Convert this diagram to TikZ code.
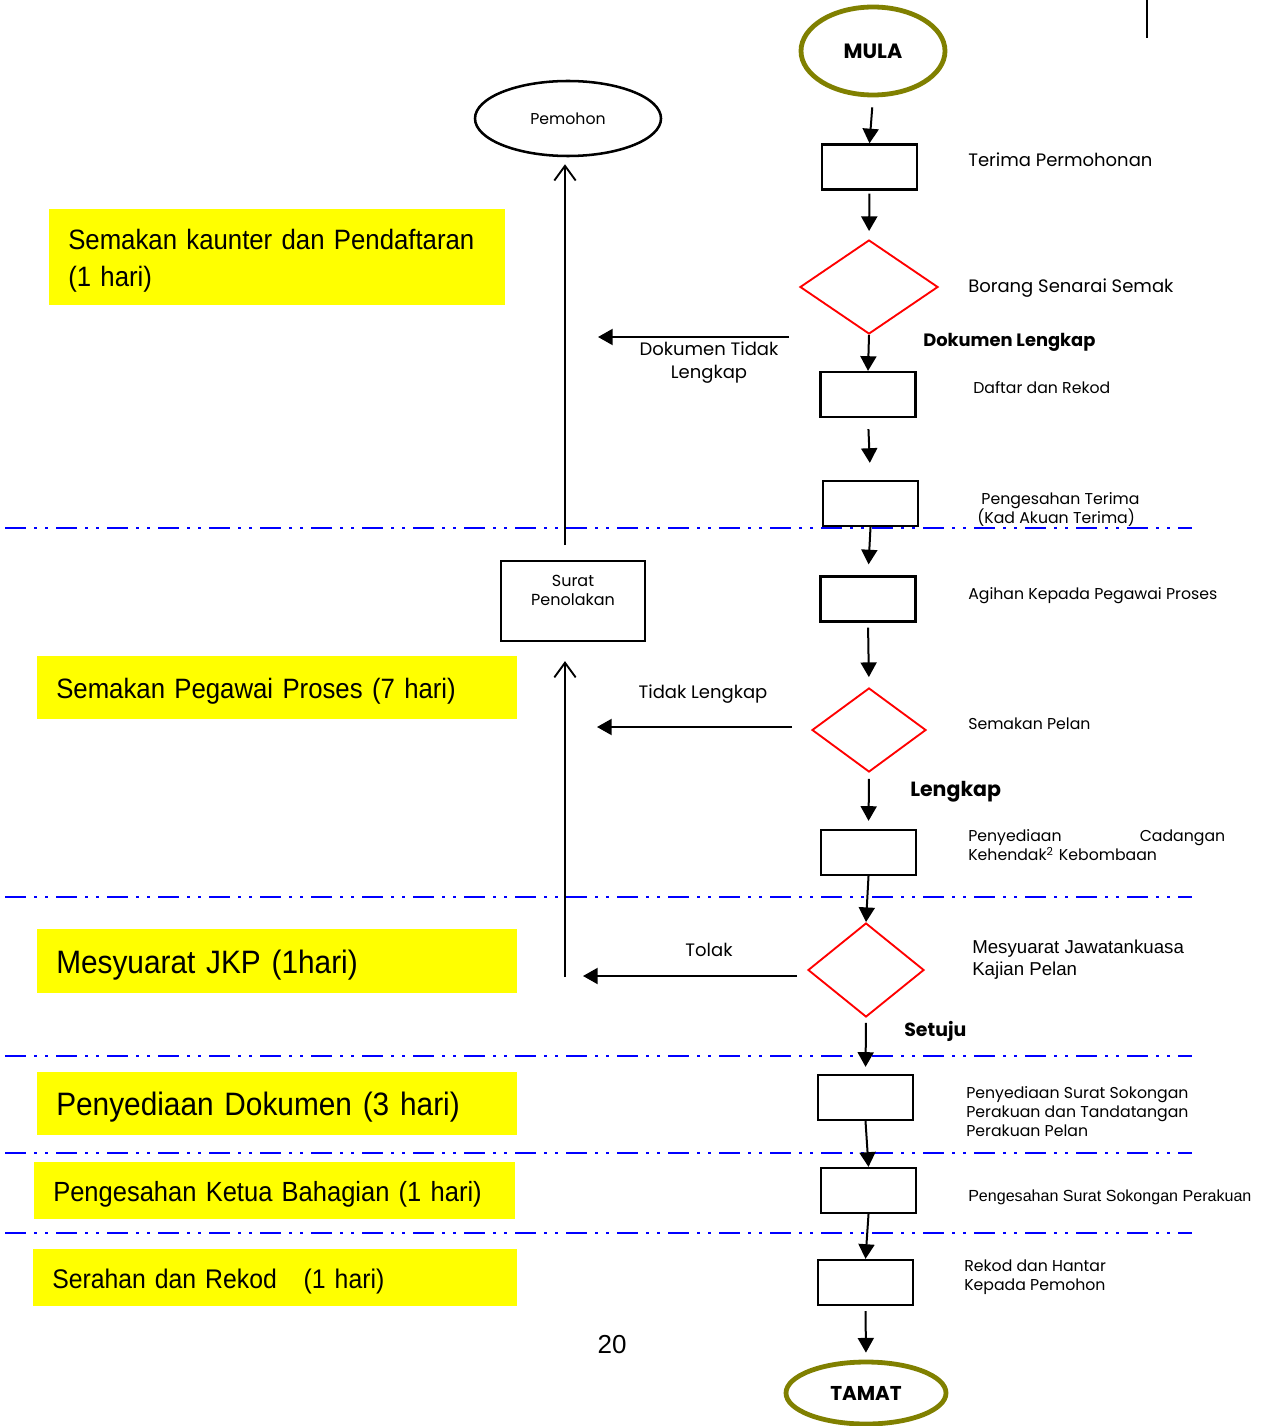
\documentclass[tikz,border=0pt]{standalone}
\usepackage{fontspec}
\setmainfont{Poppins}
\newfontfamily\arialf{Liberation Sans}
\newfontfamily\narrowf[FakeStretch=0.92]{Liberation Sans}
\usetikzlibrary{arrows.meta,shapes.geometric}
\definecolor{olivec}{HTML}{808000}
\definecolor{yel}{HTML}{FFFF00}
\newcommand\pdown{\rule{0pt}{\dimexpr\fontcharht\font`\(+6pt\relax}}
\begin{document}
\begin{tikzpicture}[x=0.75pt,y=-0.75pt,
  stepbox/.style={draw, line width=1.7pt, minimum width=71.25pt, minimum height=33.75pt, inner sep=0},
  decide/.style={diamond, draw=red, line width=1.4pt, inner sep=0},
  terminal/.style={ellipse, draw=olivec, line width=3.6pt, inner sep=0},
  flow/.style={line width=1.5pt, -{Triangle[width=12pt,length=11pt]}},
  back/.style={line width=1.4pt, -{Straight Barb[width=16pt,length=11pt]}},
  sep/.style={draw=blue, line width=1.6pt, dash pattern=on 15.75pt off 6pt on 2.25pt off 6pt on 2.25pt off 6pt},
  stage/.style={fill=yel, anchor=north west, inner xsep=14.25pt, inner ysep=0, align=left},
  note/.style={anchor=west, inner sep=0, align=left},
  f11/.style={font=\fontsize{11.8}{14.25}\selectfont},
  f13/.style={font=\fontsize{13.5}{17}\selectfont},
  fb/.style={font=\bfseries\fontsize{13.4}{15}\selectfont},
]
\useasboundingbox (0,0) rectangle (1265,1426);

% top right mark
\coordinate (m1) at (1147,0);
\coordinate (m2) at (1147,38);
\draw[line width=2.2pt] (m1) -- (m2);

% yellow stage labels
\node[stage, minimum width=342pt, minimum height=72pt, text width=313.5pt, font=\narrowf\fontsize{21}{27.75}\selectfont] (s1) at (49,209) {\pdown Semakan kaunter dan Pendaftaran\\(1 hari)};
\node[stage, minimum width=360pt, minimum height=47.25pt, text width=331.5pt, font=\narrowf\fontsize{21}{25}\selectfont] (s2) at (37,656) {\pdown Semakan Pegawai Proses (7 hari)};
\node[stage, minimum width=360pt, minimum height=48pt, text width=331.5pt, font=\narrowf\fontsize{24.3}{28}\selectfont] (s3) at (37,929) {\pdown Mesyuarat JKP (1hari)};
\node[stage, minimum width=360pt, minimum height=47.25pt, text width=331.5pt, font=\narrowf\fontsize{24.3}{28}\selectfont] (s4) at (37,1072) {\pdown Penyediaan Dokumen (3 hari)};
\node[stage, minimum width=360.75pt, minimum height=42.75pt, text width=332.25pt, font=\narrowf\fontsize{20.8}{24}\selectfont] (s5) at (34,1162) {\pdown Pengesahan Ketua Bahagian (1 hari)};
\node[stage, minimum width=363pt, minimum height=42.75pt, text width=334.5pt, font=\narrowf\fontsize{20.2}{24}\selectfont] (s6) at (33,1249) {\pdown Serahan dan Rekod\ \ \ (1 hari)};

% terminals
\node[terminal, minimum width=108pt, minimum height=66pt, font=\bfseries\fontsize{15.5}{17}\selectfont] (mula) at (873,51) {MULA};
\node[terminal, minimum width=120pt, minimum height=46.5pt, font=\bfseries\fontsize{15}{17}\selectfont] (tamat) at (866,1393) {TAMAT};

% process boxes
\node[stepbox] (b1) at (869.5,167) {};
\node[stepbox] (b2) at (868,394.5) {};
\node[stepbox] (b3) at (870.5,503.5) {};
\node[stepbox] (b4) at (868,599) {};
\node[stepbox] (b5) at (868.5,852.5) {};
\node[stepbox] (b6) at (865.5,1097.5) {};
\node[stepbox] (b7) at (868.5,1190.5) {};
\node[stepbox] (b8) at (865.5,1282.5) {};

% decisions
\node[decide, minimum width=103.5pt, minimum height=70.5pt] (d1) at (869,287) {};
\node[decide, minimum width=85.5pt, minimum height=63pt] (d2) at (869,730) {};
\node[decide, minimum width=87pt, minimum height=70.5pt] (d3) at (866,970) {};

% left side
\node[ellipse, draw, line width=1.9pt, minimum width=139.5pt, minimum height=56.25pt, inner sep=0, f11] (pem) at (568,118.5) {Pemohon};
\node[draw, line width=1.7pt, minimum width=108pt, minimum height=60pt, inner sep=0] (sp) at (573,601) {};
\node[inner sep=0, align=center, font=\fontsize{12}{14.25}\selectfont] (sptext) at (573,590) {Surat\\Penolakan};

% separators
\coordinate (l1a) at (5,528);  \coordinate (l1b) at (1192,528);
\coordinate (l2a) at (5,897);  \coordinate (l2b) at (1192,897);
\coordinate (l3a) at (5,1056); \coordinate (l3b) at (1192,1056);
\coordinate (l4a) at (5,1153); \coordinate (l4b) at (1192,1153);
\coordinate (l5a) at (5,1233); \coordinate (l5b) at (1192,1233);
\draw[sep] (l1a) -- (l1b);
\draw[sep] (l2a) -- (l2b);
\draw[sep] (l3a) -- (l3b);
\draw[sep] (l4a) -- (l4b);
\draw[sep] (l5a) -- (l5b);

% main flow
\draw[flow, shorten <=7.5pt] (mula.south) -- (b1.north);
\draw[flow, shorten <=2.25pt, shorten >=6pt] (b1.south) -- (d1.north);
\draw[flow] (d1.south) -- (b2.north);
\draw[flow, shorten <=8.25pt, shorten >=12.75pt] (b2.south) -- (b3.north);
\draw[flow, shorten >=8.25pt] (b3.south) -- (b4.north);
\draw[flow, shorten <=3.75pt, shorten >=7.5pt] (b4.south) -- (d2.north);
\draw[flow, shorten <=4.5pt, shorten >=6pt] (d2.south) -- (b5.north);
\draw[flow] (b5.south) -- (d3.north);
\draw[flow, shorten <=3.75pt, shorten >=5.25pt] (d3.south) -- (b6.north);
\draw[flow] (b6.south) -- (b7.north);
\draw[flow] (b7.south) -- (b8.north);
\draw[flow, shorten <=3.75pt, shorten >=5.25pt] (b8.south) -- (tamat.north);

% rejection arrows
\coordinate (h1s) at (789,337); \coordinate (h1e) at (598,337);
\coordinate (h2s) at (792,727); \coordinate (h2e) at (597,727);
\coordinate (h3s) at (797,976); \coordinate (h3e) at (583,976);
\draw[flow] (h1s) -- (h1e);
\draw[flow] (h2s) -- (h2e);
\draw[flow] (h3s) -- (h3e);
\coordinate (v1) at (565,545);
\coordinate (v2) at (565,977);
\draw[back, shorten >=5.25pt] (v1) -- (v1 |- pem.south);
\draw[back, shorten >=14.25pt] (v2) -- (v2 |- sp.south);

% arrow labels
\node[inner sep=0, align=center, f13] (t1) at (709,362.5) {Dokumen Tidak\\Lengkap};
\node[inner sep=0, f13] (t2) at (703,694) {Tidak Lengkap};
\node[inner sep=0, f13] (t3) at (709,950) {Tolak};
\node[note, fb] (y1) at (923,342) {Dokumen Lengkap};
\node[note, font=\bfseries\fontsize{15.4}{17}\selectfont] (y2) at (910,792) {Lengkap};
\node[note, font=\bfseries\fontsize{14.2}{17}\selectfont] (y3) at (904,1031) {Setuju};

% step descriptions
\node[note, f13] (n1) at (968,160) {Terima Permohonan};
\node[note, f13] (n2) at (968,288) {Borang Senarai Semak};
\node[note, f11] (n3) at (973,388) {Daftar dan Rekod};
\node[note, f11] (n4) at (977,509.5) {\ Pengesahan Terima\\(Kad Akuan Terima)};
\node[note, f11] (n5) at (968,596) {Agihan Kepada Pegawai Proses};
\node[note, f11] (n6) at (968,724) {Semakan Pelan};
\node[note, f11, text width=192.75pt] (n7) at (968,845.5) {Penyediaan\hfill Cadangan\\Kehendak\textsuperscript{2} Kebombaan};
\node[note, font=\arialf\fontsize{14}{16.5}\selectfont] (n8) at (972,960) {Mesyuarat Jawatankuasa\\Kajian Pelan};
\node[note, f11] (n9) at (966,1112) {Penyediaan Surat Sokongan\\Perakuan dan Tandatangan\\Perakuan Pelan};
\node[note, font=\arialf\fontsize{12.05}{14}\selectfont] (n10) at (968,1197) {Pengesahan Surat Sokongan Perakuan};
\node[note, f11] (n11) at (964,1277.5) {Rekod dan Hantar\\Kepada Pemohon};

% page number
\node[inner sep=0, font=\arialf\fontsize{19.5}{22}\selectfont] (pg) at (612,1345) {20};
\end{tikzpicture}
\end{document}
